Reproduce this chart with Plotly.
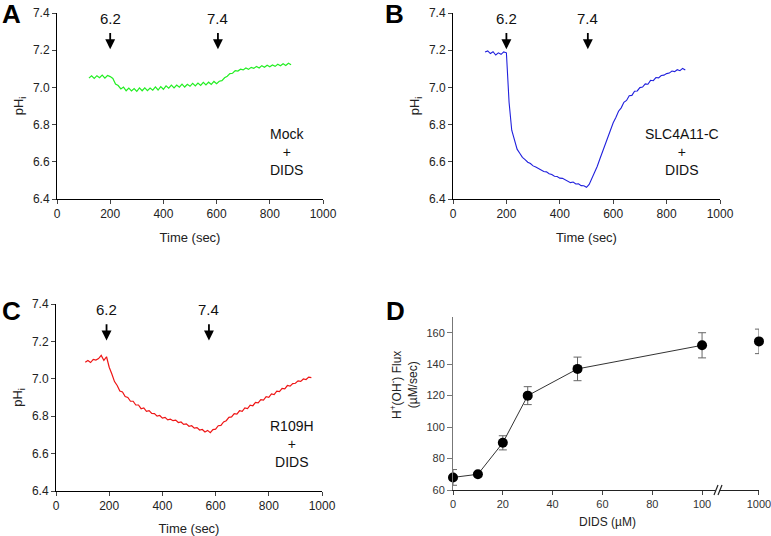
import plotly.graph_objects as go

W, H = 771, 536
FONT = "Liberation Sans, Arial, sans-serif"

# ---------------- data ----------------
time_a = list(range(120, 890, 10))
ph_a = [7.050, 7.062, 7.048, 7.063, 7.052, 7.066, 7.050, 7.064, 7.058, 7.048,
        7.018, 7.010, 6.992, 7.002, 6.982, 6.996, 6.981, 6.994, 6.979, 6.997,
        6.982, 6.998, 6.983, 6.997, 6.985, 7.003, 6.986, 7.004, 6.990, 7.008,
        6.996, 7.012, 6.997, 7.013, 7.001, 7.018, 7.002, 7.017, 7.006, 7.022,
        7.008, 7.023, 7.011, 7.027, 7.013, 7.028, 7.016, 7.032, 7.020, 7.033,
        7.036, 7.052, 7.060, 7.074, 7.076, 7.090, 7.088, 7.098, 7.094, 7.104,
        7.097, 7.108, 7.103, 7.112, 7.104, 7.117, 7.108, 7.119, 7.111, 7.121,
        7.113, 7.124, 7.116, 7.127, 7.118, 7.130, 7.122]

time_b = list(range(120, 880, 10))
ph_b = [7.190, 7.196, 7.182, 7.192, 7.174, 7.186, 7.178, 7.191, 7.186, 6.920,
        6.770, 6.712, 6.668, 6.646, 6.624, 6.612, 6.598, 6.591, 6.578, 6.572,
        6.563, 6.557, 6.548, 6.546, 6.536, 6.532, 6.522, 6.521, 6.512, 6.511,
        6.502, 6.497, 6.488, 6.491, 6.481, 6.482, 6.472, 6.471, 6.463, 6.478,
        6.508, 6.540, 6.575, 6.615, 6.655, 6.695, 6.740, 6.778, 6.810, 6.838,
        6.872, 6.890, 6.920, 6.930, 6.955, 6.957, 6.979, 6.981, 6.999, 7.002,
        7.019, 7.017, 7.038, 7.036, 7.053, 7.051, 7.064, 7.066, 7.074, 7.077,
        7.088, 7.085, 7.095, 7.090, 7.102, 7.094]

time_c = list(range(110, 970, 10))
ph_c = [7.088, 7.098, 7.087, 7.104, 7.100, 7.108, 7.125, 7.098, 7.118, 7.062,
        7.026, 6.985, 6.964, 6.935, 6.930, 6.905, 6.900, 6.880, 6.880, 6.860,
        6.860, 6.840, 6.844, 6.826, 6.830, 6.815, 6.814, 6.800, 6.804, 6.790,
        6.794, 6.780, 6.784, 6.776, 6.779, 6.766, 6.769, 6.756, 6.759, 6.746,
        6.749, 6.736, 6.739, 6.726, 6.729, 6.716, 6.724, 6.712, 6.728, 6.731,
        6.749, 6.751, 6.769, 6.776, 6.794, 6.796, 6.814, 6.811, 6.829, 6.826,
        6.844, 6.841, 6.859, 6.856, 6.874, 6.871, 6.889, 6.886, 6.904, 6.901,
        6.919, 6.916, 6.934, 6.931, 6.949, 6.946, 6.964, 6.961, 6.974, 6.976,
        6.989, 6.986, 6.999, 6.996, 7.009, 7.006]

# arrow times (acid 6.2 / back to 7.4) per panel
arrows_a = [200, 605]
arrows_b = [200, 505]
arrows_c = [190, 575]
arrow_labels = ["6.2", "7.4"]

dids_dose = [0, 10, 20, 30, 50, 100]
dids_flux = [68, 70, 90, 120, 137, 152]
dids_err = [5, 1.2, 4.5, 5.7, 7.5, 8]
dids_dose_hi = [1000]
dids_flux_hi = [154.5]
dids_err_hi = [7.8]

ph_ticks = [6.4, 6.6, 6.8, 7.0, 7.2, 7.4]
time_ticks = [0, 200, 400, 600, 800, 1000]
flux_ticks = [60, 80, 100, 120, 140, 160]
dose_ticks = [0, 20, 40, 60, 80, 100]
dose_ticks_hi = [1000]

assert len(time_a) == len(ph_a), (len(time_a), len(ph_a))
assert len(time_b) == len(ph_b), (len(time_b), len(ph_b))
assert len(time_c) == len(ph_c), (len(time_c), len(ph_c))


def px(x):
    return x / W


def py(y):
    return 1 - y / H


fig = go.Figure()

fig.add_trace(go.Scatter(x=time_a, y=ph_a, mode="lines", line=dict(color="#22EE22", width=1.2),
                         xaxis="x", yaxis="y", showlegend=False))
fig.add_trace(go.Scatter(x=time_b, y=ph_b, mode="lines", line=dict(color="#2020DD", width=1.1),
                         xaxis="x2", yaxis="y2", showlegend=False))
fig.add_trace(go.Scatter(x=time_c, y=ph_c, mode="lines", line=dict(color="#EE1515", width=1.2),
                         xaxis="x3", yaxis="y3", showlegend=False))

fig.add_trace(go.Scatter(x=dids_dose, y=dids_flux, mode="lines+markers",
                         line=dict(color="#333333", width=1),
                         marker=dict(color="black", size=10),
                         error_y=dict(type="data", array=dids_err, color="#666666", thickness=1, width=4),
                         cliponaxis=False, xaxis="x4", yaxis="y4", showlegend=False))
fig.add_trace(go.Scatter(x=dids_dose_hi, y=dids_flux_hi, mode="markers",
                         marker=dict(color="black", size=10),
                         error_y=dict(type="data", array=dids_err_hi, color="#666666", thickness=1, width=4),
                         cliponaxis=False, xaxis="x5", yaxis="y4", showlegend=False))

tickfont = dict(family=FONT, size=12, color="#222222")
tickfont_d = dict(family=FONT, size=11, color="#333333")

common_x = dict(range=[0, 1000], tickvals=time_ticks, ticks="outside", ticklen=4, showline=True,
                linecolor="black", linewidth=1, showgrid=False, zeroline=False, tickfont=tickfont,
                automargin=False,
                title=dict(text="Time (sec)", font=dict(family=FONT, size=13, color="#222222"), standoff=12))
common_y = dict(range=[6.4, 7.4], tickvals=ph_ticks, tickformat=".1f", ticks="outside", ticklen=4,
                showline=True, linecolor="black", linewidth=1, showgrid=False, zeroline=False,
                tickfont=tickfont, automargin=False,
                title=dict(text="pH<sub>i</sub>", font=dict(family=FONT, size=13, color="#222222"), standoff=6))

ydomAB = [py(199), py(13)]
ydomC = [py(491), py(304)]

fig.update_layout(
    width=W, height=H, margin=dict(l=0, r=0, t=0, b=0, pad=0, autoexpand=False),
    paper_bgcolor="white", plot_bgcolor="white",
    font=dict(family=FONT),
    xaxis=dict(common_x, domain=[px(57), px(323)], anchor="y"),
    yaxis=dict(common_y, domain=ydomAB, anchor="x"),
    xaxis2=dict(common_x, domain=[px(453), px(720)], anchor="y2"),
    yaxis2=dict(common_y, domain=ydomAB, anchor="x2"),
    xaxis3=dict(common_x, domain=[px(56), px(322)], anchor="y3"),
    yaxis3=dict(common_y, domain=ydomC, anchor="x3"),
    xaxis4=dict(domain=[px(453), px(717)], anchor="y4", range=[0, 106], tickvals=dose_ticks,
                ticks="outside", ticklen=4, showline=True, linecolor="#222222", linewidth=1,
                showgrid=False, zeroline=False, tickfont=tickfont_d, automargin=False),
    xaxis5=dict(domain=[px(717), px(759)], anchor="y4", range=[983, 1000.01], tickvals=dose_ticks_hi,
                ticktext=[str(v) for v in dose_ticks_hi], tickmode="array",
                ticks="outside", ticklen=4, showline=True, linecolor="#222222", linewidth=1,
                showgrid=False, zeroline=False, tickfont=tickfont_d, automargin=False,
                ticklabeloverflow="allow"),
    yaxis4=dict(domain=[py(490), py(317)], anchor="x4", range=[60, 170], tickvals=flux_ticks,
                ticks="outside", ticklen=5, showline=True, linecolor="#777777", linewidth=1,
                tickcolor="#777777", showgrid=False, zeroline=False, tickfont=tickfont_d,
                automargin=False),
)

ann = []
# arrows with their labels
for xref, yref, times in (("x", "y", arrows_a), ("x2", "y2", arrows_b), ("x3", "y3", arrows_c)):
    for t, lab in zip(times, arrow_labels):
        ann.append(dict(x=t, y=7.205, ax=t, ay=7.30, xref=xref, yref=yref, axref=xref, ayref=yref,
                        text="", showarrow=True, arrowhead=2, arrowsize=1.1, arrowwidth=1.8,
                        arrowcolor="black"))
        ann.append(dict(x=t, y=7.37, xref=xref, yref=yref, text=lab, showarrow=False,
                        xanchor="center", yanchor="middle",
                        font=dict(family=FONT, size=15, color="#111111")))

# condition labels
for xref, yref, t, lab in (("x", "y", 863, "Mock"), ("x2", "y2", 856, "SLC4A11-C"),
                           ("x3", "y3", 887, "R109H")):
    ann.append(dict(x=t, y=6.652, xref=xref, yref=yref, text=lab + "<br>+<br>DIDS", showarrow=False,
                    xanchor="center", yanchor="middle",
                    align="center", font=dict(family=FONT, size=14, color="#111111")))

# panel letters
for x, y, lab in ((0, 14, "A"), (383, 14, "B"), (0, 311, "C"), (384, 311, "D")):
    ann.append(dict(x=px(x), y=py(y), xref="paper", yref="paper", xanchor="left", yanchor="middle",
                    text="<b>" + lab + "</b>", showarrow=False,
                    font=dict(family=FONT, size=26, color="black")))

# panel D axis titles
ann.append(dict(x=px(607), y=py(522), xref="paper", yref="paper", text="DIDS (\u00b5M)", showarrow=False,
                xanchor="center", yanchor="middle",
                font=dict(family=FONT, size=12, color="#222222")))
ann.append(dict(x=px(404), y=py(385), xref="paper", yref="paper",
                text="H<sup>+</sup>(OH<sup>-</sup>) Flux<br>(\u00b5M/sec)", showarrow=False,
                xanchor="center", yanchor="middle",
                textangle=-90, font=dict(family=FONT, size=12, color="#222222")))

fig.update_layout(annotations=ann)

# axis break marks on panel D
fig.add_shape(type="rect", xref="paper", yref="paper", x0=px(715.5), x1=px(719.5), y0=py(491.5), y1=py(488.5),
              line=dict(width=0), fillcolor="white", layer="above")
for x0 in (714, 718):
    fig.add_shape(type="line", xref="paper", yref="paper", x0=px(x0), y0=py(495), x1=px(x0 + 4), y1=py(485),
                  line=dict(color="#222222", width=1.2), layer="above")

fig.write_html("out.html", config={"displayModeBar": False},
               post_script="document.body.style.margin='0px';document.body.style.padding='0px';")
